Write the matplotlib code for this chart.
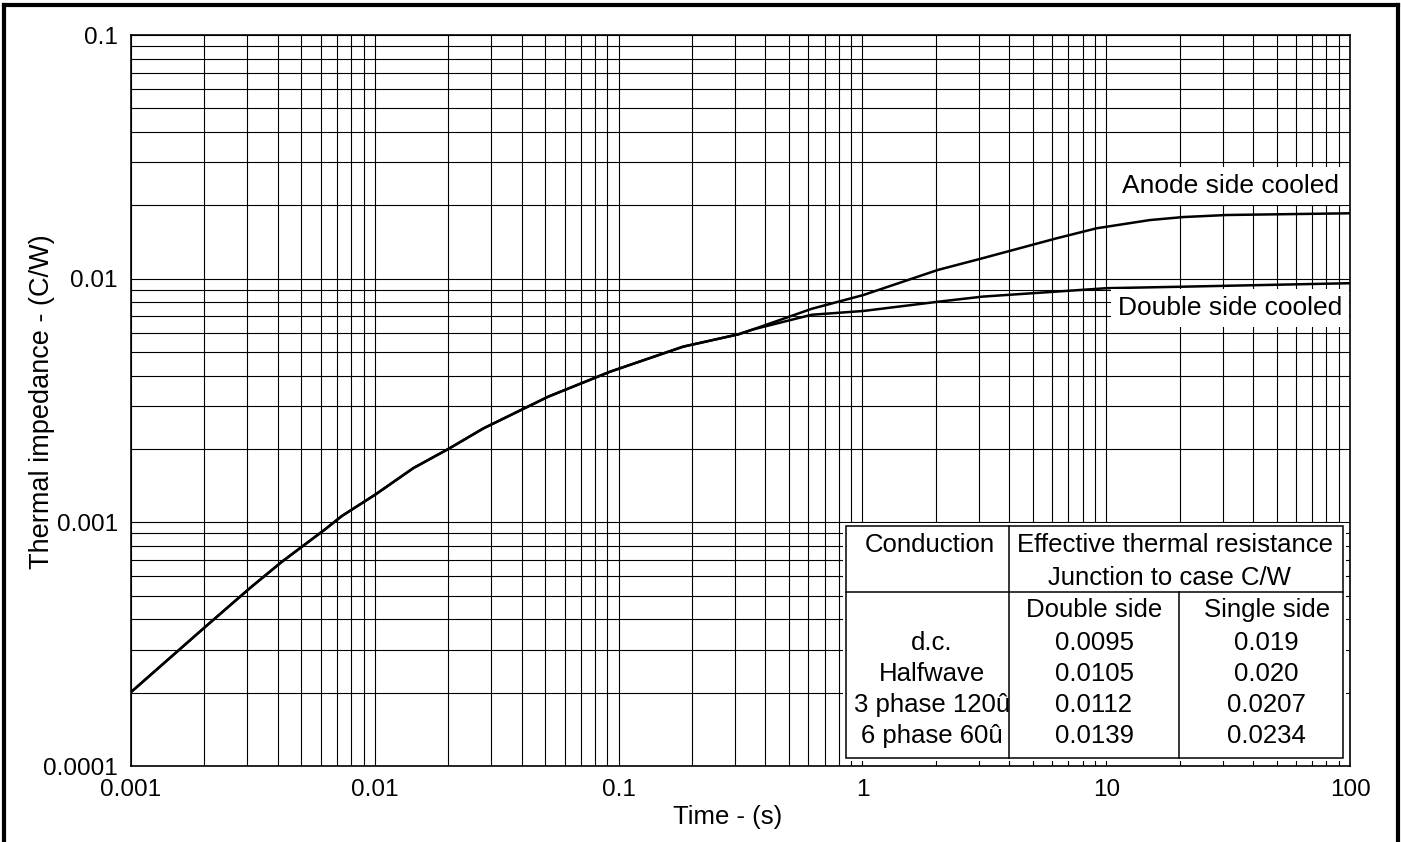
import matplotlib
matplotlib.use("Agg")
import matplotlib.pyplot as plt
from matplotlib.patches import Rectangle
from matplotlib.lines import Line2D
import numpy as np

plt.rcParams['font.family'] = ['Liberation Sans', 'DejaVu Sans']

# ---- data ----
shared_t = [0.001, 0.00202, 0.00308, 0.00415, 0.00621, 0.00731, 0.01005, 0.0144,
            0.0202, 0.0279, 0.0515, 0.0922, 0.184, 0.310, 0.356]
shared_z = [0.000201, 0.000373, 0.000538, 0.000688, 0.000931, 0.00106, 0.00130, 0.00167,
            0.00201, 0.00243, 0.00328, 0.00415, 0.00526, 0.00591, 0.00619]
anode_t = [0.619, 1.01, 2.04, 3.11, 6.27, 9.14, 15.1, 20.7, 31.2, 100]
anode_z = [0.00752, 0.00857, 0.01086, 0.01213, 0.01465, 0.0161, 0.0174, 0.0179, 0.01825, 0.01855]
double_t = [0.619, 1.01, 2.04, 3.11, 10.05, 20.7, 100]
double_z = [0.00711, 0.00737, 0.00804, 0.00844, 0.00914, 0.00927, 0.00958]

x_ticks = [0.001, 0.01, 0.1, 1, 10, 100]
x_labels = ["0.001", "0.01", "0.1", "1", "10", "100"]
y_ticks = [0.0001, 0.001, 0.01, 0.1]
y_labels = ["0.0001", "0.001", "0.01", "0.1"]

curve_labels = ["Anode side cooled", "Double side cooled"]
hdr_conduction = "Conduction"
hdr_resistance = ["Effective thermal resistance", "Junction to case C/W"]
col_heads = ["Double side", "Single side"]
conduction = ["d.c.", "Halfwave", "3 phase 120û", "6 phase 60û"]
double_side = ["0.0095", "0.0105", "0.0112", "0.0139"]
single_side = ["0.019", "0.020", "0.0207", "0.0234"]

# ---- figure ----
W, H = 1401, 842
fig = plt.figure(figsize=(W / 100, H / 100), dpi=100)
L, R, T, B = 131, 1350, 35, 766
ax = fig.add_axes([L / W, 1 - B / H, (R - L) / W, (B - T) / H])

def px(x, y):
    return ((x - L) / (R - L), (B - y) / (B - T))

ax.set_xscale('log')
ax.set_yscale('log')
ax.set_xlim(0.001, 100)
ax.set_ylim(0.0001, 0.1)

ax.grid(True, which='both', color='black', lw=0.8, zorder=1)
ax.set_axisbelow(True)
ax.set_xticks(x_ticks, x_labels)
ax.set_yticks(y_ticks, y_labels)
ax.tick_params(which='both', length=0, labelsize=17.5)
ax.tick_params(axis='x', pad=9)
ax.tick_params(axis='y', pad=9.5)
for s in ax.spines.values():
    s.set_linewidth(1.2)
    s.set_color('black')

t_anode = shared_t + anode_t
z_anode = shared_z + anode_z
t_double = shared_t + double_t
z_double = shared_z + double_z
ax.plot(t_anode, z_anode, color='black', lw=1.8, zorder=3, solid_joinstyle='round')
ax.plot(t_double, z_double, color='black', lw=1.8, zorder=3, solid_joinstyle='round')

ax.set_xlabel("Time - (s)", fontsize=18.5)
ax.xaxis.set_label_coords(*px(728, 817))
ax.xaxis.label.set_va('center')
ax.set_ylabel("Thermal impedance - (C/W)", fontsize=19.5)
ax.yaxis.set_label_coords(*px(42, 402))
ax.yaxis.label.set_va('center')

# curve labels
ax.text(*px(1231, 186), curve_labels[0], transform=ax.transAxes, fontsize=19,
        ha='center', va='center', zorder=5,
        bbox=dict(facecolor='white', edgecolor='none', pad=5))
ax.text(*px(1230, 308), curve_labels[1], transform=ax.transAxes, fontsize=19,
        ha='center', va='center', zorder=5,
        bbox=dict(facecolor='white', edgecolor='none', pad=5))

# table
tl, tr, tt, tb = 846, 1343, 526, 758
x0, y0 = px(tl - 3, tb + 3)
x1, y1 = px(tr + 3, tt - 3)
ax.add_patch(Rectangle((x0, y0), x1 - x0, y1 - y0, transform=ax.transAxes,
                       facecolor='white', edgecolor='none', zorder=4))
x0, y0 = px(tl, tb)
x1, y1 = px(tr, tt)
ax.add_patch(Rectangle((x0, y0), x1 - x0, y1 - y0, transform=ax.transAxes,
                       facecolor='white', edgecolor='black', lw=1.1, zorder=5))

def seg(xa, ya, xb, yb):
    a = px(xa, ya)
    b = px(xb, yb)
    ax.add_line(Line2D([a[0], b[0]], [a[1], b[1]], transform=ax.transAxes,
                       color='black', lw=1.1, zorder=6))

seg(1009, tt, 1009, tb)
seg(tl, 592, tr, 592)
seg(1179, 592, 1179, tb)

fs = 18.5
def txt(x, y, s):
    ax.text(*px(x, y), s, transform=ax.transAxes, fontsize=fs, ha='center',
            va='center', zorder=7)

txt(930, 545, hdr_conduction)
txt(1175, 545, hdr_resistance[0])
txt(1169, 578, hdr_resistance[1])
txt(1094, 610, col_heads[0])
txt(1267, 610, col_heads[1])
row_y = [643, 674, 705, 736]
for i, yy in enumerate(row_y):
    txt(932, yy, conduction[i])
    txt(1094, yy, double_side[i])
    txt(1266, yy, single_side[i])

# figure frame (left, top, right)
lw_f = 3.0
fig.add_artist(Line2D([4 / W, 4 / W], [0, 1 - 5 / H], transform=fig.transFigure,
                      color='black', lw=lw_f, solid_capstyle='projecting'))
fig.add_artist(Line2D([4 / W, 1397.5 / W], [1 - 5 / H, 1 - 5 / H], transform=fig.transFigure,
                      color='black', lw=lw_f, solid_capstyle='projecting'))
fig.add_artist(Line2D([1397.5 / W, 1397.5 / W], [0, 1 - 5 / H], transform=fig.transFigure,
                      color='black', lw=lw_f, solid_capstyle='projecting'))

fig.savefig("out.png", dpi=100)
